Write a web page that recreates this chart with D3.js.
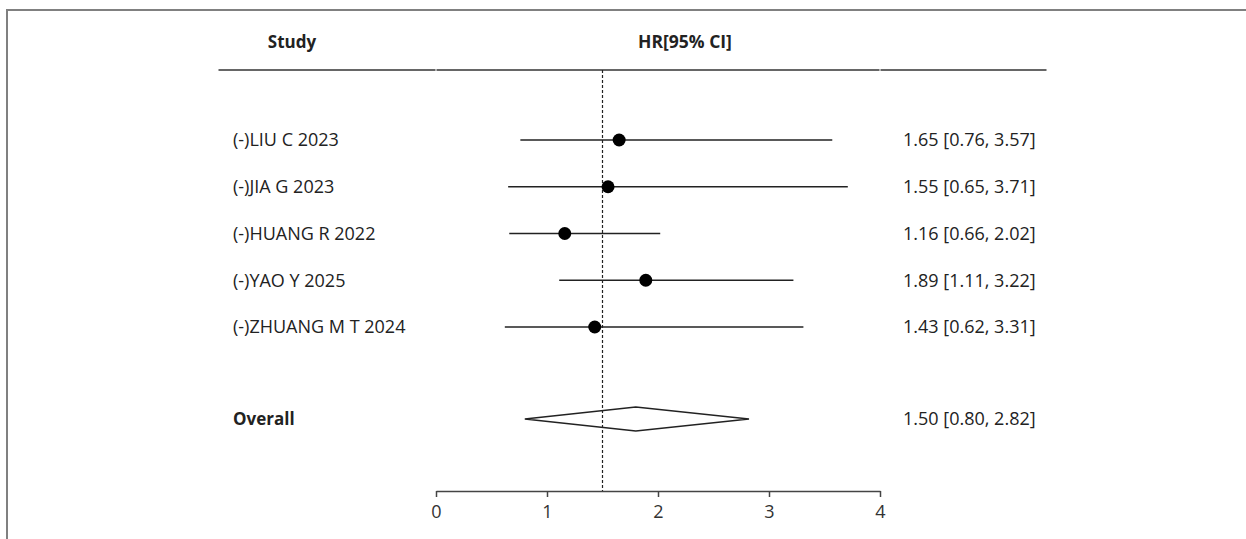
<!DOCTYPE html>
<html>
<head>
<meta charset="utf-8">
<script src="https://cdn.jsdelivr.net/npm/d3@7"></script>
<style>
  body { margin: 0; background: #fff; }
  text { font-family: "Open Sans", "Noto Sans", sans-serif; fill: #222; }
</style>
</head>
<body>
<div id="forest"></div>
<script>
// study data
var studies = ["(-)LIU C 2023", "(-)JIA G 2023", "(-)HUANG R 2022", "(-)YAO Y 2025", "(-)ZHUANG M T 2024"];
var hr    = [1.65, 1.55, 1.16, 1.89, 1.43];
var lower = [0.76, 0.65, 0.66, 1.11, 0.62];
var upper = [3.57, 3.71, 2.02, 3.22, 3.31];

// pooled estimate
var overallLabel = "Overall";
var overallHR = 1.50, overallLo = 0.80, overallHi = 2.82;
var overallPeak = 1.80;   // apex of the diamond as drawn
var refLine = 1.50;       // dashed vertical line

var xTicks = [0, 1, 2, 3, 4];

var width = 1246, height = 539;

var svg = d3.select("#forest")
  .append("svg")
    .attr("width", width)
    .attr("height", height);

// outer frame
svg.append("path")
  .attr("d", "M7," + height + "V10H" + width)
  .attr("fill", "none")
  .attr("stroke", "#808080")
  .attr("stroke-width", 2);

// scales
var x = d3.scaleLinear()
  .domain([0, 4])
  .range([436, 880]);

var y = d3.scalePoint()
  .domain(studies)
  .range([140, 327]);

var yOverall = 419;
var axisY = 491;
var fmt = d3.format(".2f");
var fs = "18px";

// header
svg.append("text")
  .attr("x", 292).attr("y", 42)
  .attr("text-anchor", "middle")
  .attr("dy", "0.35em")
  .attr("font-size", "17px")
  .attr("font-weight", "bold")
  .text("Study");

svg.append("text")
  .attr("x", 685).attr("y", 42)
  .attr("text-anchor", "middle")
  .attr("dy", "0.35em")
  .attr("font-size", "17.5px")
  .attr("font-weight", "bold")
  .text("HR[95% CI]");

// header rule, in three pieces
[[218, x(0)], [x(0), x(4)], [x(4), 1047]].forEach(function(s) {
  svg.append("line")
    .attr("x1", s[0] + 0.5).attr("x2", s[1] - 0.5)
    .attr("y1", 70).attr("y2", 70)
    .attr("stroke", "#666")
    .attr("stroke-width", 2.2);
});

// dashed reference line
svg.append("line")
  .attr("x1", x(refLine)).attr("x2", x(refLine))
  .attr("y1", 70).attr("y2", axisY)
  .attr("stroke", "#222")
  .attr("stroke-width", 1.2)
  .attr("stroke-dasharray", "3,2");

// rows
var rows = studies.map(function(s, i) {
  return {name: s, hr: hr[i], lo: lower[i], hi: upper[i]};
});

var g = svg.selectAll(".row")
  .data(rows)
  .enter()
  .append("g")
    .attr("class", "row");

g.append("line")
  .attr("x1", function(d) { return x(d.lo); })
  .attr("x2", function(d) { return x(d.hi); })
  .attr("y1", function(d) { return y(d.name); })
  .attr("y2", function(d) { return y(d.name); })
  .attr("stroke", "#222")
  .attr("stroke-width", 1.7);

g.append("circle")
  .attr("cx", function(d) { return x(d.hr); })
  .attr("cy", function(d) { return y(d.name); })
  .attr("r", 6.5)
  .attr("fill", "#000");

g.append("text")
  .attr("x", 233)
  .attr("y", function(d) { return y(d.name); })
  .attr("dy", "0.35em")
  .attr("font-size", fs)
  .text(function(d) { return d.name; });

g.append("text")
  .attr("x", 903)
  .attr("y", function(d) { return y(d.name); })
  .attr("dy", "0.35em")
  .attr("font-size", fs)
  .text(function(d) { return fmt(d.hr) + " [" + fmt(d.lo) + ", " + fmt(d.hi) + "]"; });

// overall diamond
svg.append("path")
  .attr("d", "M" + x(overallLo) + "," + yOverall +
             "L" + x(overallPeak) + "," + (yOverall - 12) +
             "L" + x(overallHi) + "," + yOverall +
             "L" + x(overallPeak) + "," + (yOverall + 12) + "Z")
  .attr("fill", "none")
  .attr("stroke", "#222")
  .attr("stroke-width", 1.3);

svg.append("text")
  .attr("x", 233).attr("y", yOverall)
  .attr("dy", "0.35em")
  .attr("font-size", "17px")
  .attr("font-weight", "bold")
  .text(overallLabel);

svg.append("text")
  .attr("x", 903).attr("y", yOverall)
  .attr("dy", "0.35em")
  .attr("font-size", fs)
  .text(fmt(overallHR) + " [" + fmt(overallLo) + ", " + fmt(overallHi) + "]");

// x axis
var axis = svg.append("g")
  .attr("transform", "translate(0," + axisY + ")")
  .call(d3.axisBottom(x).tickValues(xTicks).tickSize(6).tickSizeOuter(0).tickFormat(d3.format("d")));

axis.select(".domain").attr("stroke", "#444").attr("stroke-width", 1.3);
axis.selectAll(".tick line").attr("stroke", "#444").attr("stroke-width", 1.5);
axis.selectAll(".tick text")
  .style("font-family", "\"Open Sans\", sans-serif")
  .style("font-size", "18px")
  .style("fill", "#333")
  .attr("y", 14)
  .attr("dy", "0.71em");
</script>
</body>
</html>
